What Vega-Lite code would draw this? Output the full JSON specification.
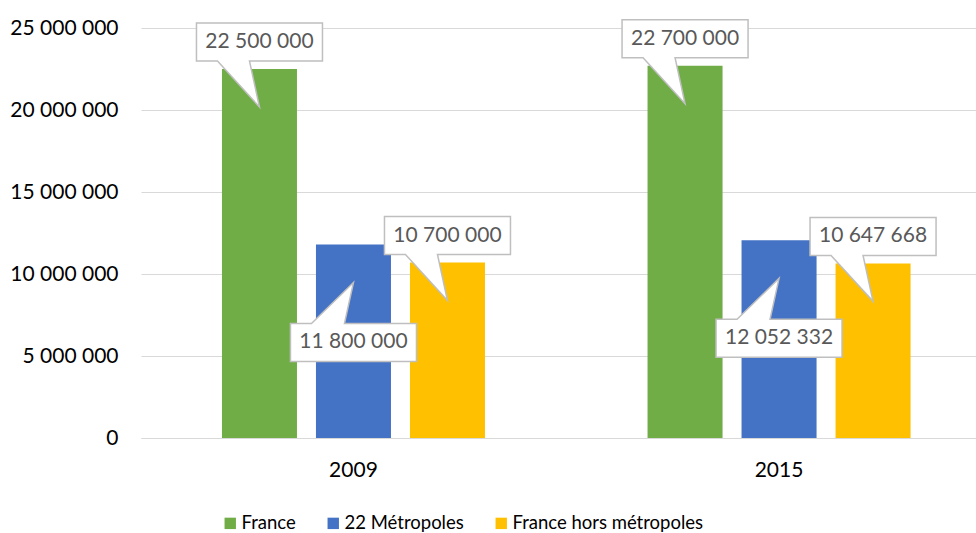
{
  "$schema": "https://vega.github.io/schema/vega-lite/v6.json",
  "width": 835,
  "height": 410,
  "autosize": {"type": "none"},
  "padding": {"left": 141, "top": 28, "right": 0, "bottom": 95},
  "background": "#ffffff",
  "config": {
    "locale": {"number": {"decimal": ",", "thousands": " ", "grouping": [3], "currency": ["", " €"]}},
    "view": {"stroke": null},
    "font": "Lato"
  },
  "data": {
    "values": [
      {"year": "2009", "series": "France", "value": 22500000},
      {"year": "2009", "series": "22 Métropoles", "value": 11800000},
      {"year": "2009", "series": "France hors métropoles", "value": 10700000},
      {"year": "2015", "series": "France", "value": 22700000},
      {"year": "2015", "series": "22 Métropoles", "value": 12052332},
      {"year": "2015", "series": "France hors métropoles", "value": 10647668}
    ]
  },
  "encoding": {
    "x": {
      "field": "year", "type": "nominal",
      "scale": {"paddingInner": 0.382, "paddingOuter": 0.172, "align": 0.553, "round": false},
      "axis": {
        "title": null, "labelAngle": 0, "ticks": false,
        "domainColor": "#d9d9d9", "domainWidth": 1,
        "labelFont": "Lato", "labelFontSize": 21, "labelColor": "#000000", "labelPadding": 21
      }
    },
    "xOffset": {
      "field": "series", "type": "nominal",
      "sort": ["France", "22 Métropoles", "France hors métropoles"],
      "scale": {"paddingInner": 0.202, "paddingOuter": 0, "round": false}
    },
    "y": {
      "field": "value", "type": "quantitative",
      "scale": {"domain": [0, 25000000], "nice": false},
      "axis": {
        "title": null, "values": [0, 5000000, 10000000, 15000000, 20000000, 25000000],
        "format": ",d", "domain": false, "ticks": false,
        "gridColor": "#d9d9d9", "gridWidth": 1,
        "labelFont": "Lato", "labelFontSize": 21, "labelColor": "#000000", "labelPadding": 23
      }
    }
  },
  "layer": [
    {
      "mark": {"type": "bar"},
      "encoding": {
        "color": {
          "field": "series", "type": "nominal",
          "sort": ["France", "22 Métropoles", "France hors métropoles"],
          "scale": {"domain": ["France", "22 Métropoles", "France hors métropoles"], "range": ["#70AD47", "#4472C4", "#FFC000"]},
          "legend": {
            "title": null, "orient": "none", "legendX": 80, "legendY": 486,
            "direction": "horizontal", "columns": 3, "columnPadding": 28, "padding": 0,
            "symbolType": "square", "symbolSize": 130, "symbolStrokeWidth": 0,
            "labelOffset": 2, "labelLimit": 400, "labelFont": "Lato", "labelFontSize": 18.5, "labelColor": "#000000"
          }
        }
      }
    },
    {
      "transform": [{"filter": "datum.series != '22 Métropoles'"}],
      "mark": {
        "type": "point", "filled": true, "fill": "#ffffff", "opacity": 1,
        "stroke": "#bfbfbf", "strokeWidth": 1.5, "size": 4,
        "shape": "M -63 -46 L 63 -46 L 63 -8 L -10 -8 L 0 38 L -42 -8 L -63 -8 Z"
      }
    },
    {
      "transform": [{"filter": "datum.series == '22 Métropoles'"}],
      "mark": {
        "type": "point", "filled": true, "fill": "#ffffff", "opacity": 1,
        "stroke": "#bfbfbf", "strokeWidth": 1.5, "size": 4,
        "shape": "M -63 79 L -42 79 L 0 38 L -9 79 L 63 79 L 63 117 L -63 117 Z"
      }
    },
    {
      "transform": [{"filter": "datum.series != '22 Métropoles'"}],
      "mark": {"type": "text", "dy": -27, "baseline": "middle", "align": "center", "font": "Lato", "fontSize": 21, "color": "#595959"},
      "encoding": {"text": {"field": "value", "type": "quantitative", "format": ",d"}}
    },
    {
      "transform": [{"filter": "datum.series == '22 Métropoles'"}],
      "mark": {"type": "text", "dy": 98, "baseline": "middle", "align": "center", "font": "Lato", "fontSize": 21, "color": "#595959"},
      "encoding": {"text": {"field": "value", "type": "quantitative", "format": ",d"}}
    }
  ]
}
